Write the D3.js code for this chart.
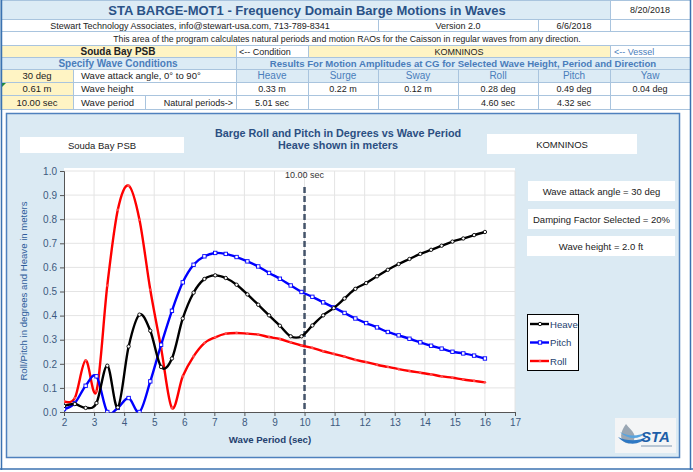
<!DOCTYPE html>
<html>
<head>
<meta charset="utf-8">
<script src="https://cdn.jsdelivr.net/npm/d3@7"></script>
<style>
  body { margin: 0; background: #fff; }
  svg { display: block; }
  text { font-family: "Liberation Sans", Arial, sans-serif; }
</style>
</head>
<body>
<svg id="sheet" width="693" height="472"></svg>
<script>
// ---- chart data ----
var periods = [2.00, 2.36, 2.72, 3.08, 3.44, 3.79, 4.15, 4.51, 4.87, 5.23,
               5.59, 5.95, 6.31, 6.67, 7.03, 7.38, 7.74, 8.10, 8.46, 8.82,
               9.18, 9.54, 9.90, 10.26, 10.62, 10.97, 11.33, 11.69, 12.05, 12.41,
               12.77, 13.13, 13.49, 13.85, 14.21, 14.56, 14.92, 15.28, 15.64, 16.00];
var heave = [0.025, 0.033, 0.017, 0.037, 0.192, 0.019, 0.272, 0.404, 0.337, 0.187,
             0.222, 0.388, 0.495, 0.552, 0.567, 0.556, 0.528, 0.488, 0.445, 0.401,
             0.358, 0.314, 0.314, 0.359, 0.401, 0.431, 0.471, 0.511, 0.535, 0.563,
             0.590, 0.614, 0.635, 0.656, 0.673, 0.690, 0.707, 0.720, 0.734, 0.747];
var pitch = [0.012, 0.037, 0.109, 0.148, 0.000, 0.017, 0.058, 0.000, 0.127, 0.279,
             0.420, 0.538, 0.611, 0.646, 0.660, 0.656, 0.643, 0.625, 0.604, 0.577,
             0.553, 0.525, 0.498, 0.478, 0.455, 0.434, 0.411, 0.388, 0.369, 0.351,
             0.332, 0.318, 0.304, 0.289, 0.275, 0.263, 0.250, 0.243, 0.234, 0.222];
var roll = [0.044, 0.058, 0.214, 0.086, 0.525, 0.839, 0.939, 0.798, 0.507, 0.265,
            0.017, 0.148, 0.231, 0.286, 0.310, 0.325, 0.328, 0.325, 0.321, 0.311,
            0.303, 0.289, 0.276, 0.266, 0.252, 0.241, 0.230, 0.216, 0.207, 0.196,
            0.187, 0.178, 0.170, 0.163, 0.156, 0.148, 0.142, 0.135, 0.129, 0.123];
var xTicks = [2, 3, 4, 5, 6, 7, 8, 9, 10, 11, 12, 13, 14, 15, 16, 17];
var yTicks = [0, 0.1, 0.2, 0.3, 0.4, 0.5, 0.6, 0.7, 0.8, 0.9, 1.0];
var selectedPeriod = 10;
var seriesNames = ["Heave", "Pitch", "Roll"];

// ---- sheet texts ----
var sheetTitle = "STA BARGE-MOT1 - Frequency Domain Barge Motions in Waves";
var runDate = "8/20/2018";
var company = "Stewart Technology Associates, info@stewart-usa.com, 713-789-8341";
var version = "Version 2.0";
var versionDate = "6/6/2018";
var note = "This area of the program calculates natural periods and motion RAOs for the Caisson in regular waves from any direction.";
var condition = "Souda Bay PSB";
var vessel = "KOMNINOS";
var inputValues = ["30 deg", "0.61 m", "10.00 sec"];
var inputLabels = ["Wave attack angle, 0\u00b0 to 90\u00b0", "Wave height", "Wave period"];
var resultLabels = ["Heave", "Surge", "Sway", "Roll", "Pitch", "Yaw"];
var resultValues = ["0.33 m", "0.22 m", "0.12 m", "0.28 deg", "0.49 deg", "0.04 deg"];
var naturalPeriods = ["5.01 sec", "", "", "4.60 sec", "4.32 sec", ""];
var infoBoxes = ["Wave attack angle = 30 deg", "Damping Factor Selected = 20%", "Wave height = 2.0 ft"];

var svg = d3.select("#sheet");
var lightBlue = "#dcebf5", yellow = "#fff4c4", grid = "#a9c4de", blueText = "#4a7dbb";

// ---------- spreadsheet header ----------
var rows = [0, 19, 31, 45, 57, 69, 82, 95, 109];
var cols = [236, 308, 378, 458, 538, 610, 690];

function cell(x0, x1, r, fill) {
  svg.append("rect").attr("x", x0 + 0.5).attr("y", rows[r] + 0.5)
    .attr("width", x1 - x0).attr("height", rows[r + 1] - rows[r])
    .attr("fill", fill).attr("stroke", grid).attr("stroke-width", 1);
}
function label(x, r, str, opt) {
  opt = opt || {};
  svg.append("text").attr("x", x).attr("y", (rows[r] + rows[r + 1]) / 2 + (opt.dy || 3.5))
    .attr("text-anchor", opt.anchor || "middle")
    .attr("font-size", opt.size || 9.5)
    .attr("font-weight", opt.weight || "normal")
    .attr("font-family", opt.family || null)
    .attr("fill", opt.fill || "#222")
    .text(str);
}

cell(0, 610, 0, lightBlue); cell(610, 690, 0, "#fff");
cell(0, 378, 1, "#fff"); cell(378, 538, 1, "#fff"); cell(538, 610, 1, "#fff"); cell(610, 690, 1, "#fff");
cell(0, 690, 2, "#fff");
cell(0, 236, 3, yellow); cell(236, 308, 3, "#fff"); cell(308, 610, 3, yellow); cell(610, 690, 3, "#fff");
cell(0, 236, 4, lightBlue); cell(236, 690, 4, lightBlue);
[5, 6, 7].forEach(function(r) {
  cell(0, 73, r, yellow);
  if (r == 7) { cell(73, 145, r, "#fff"); cell(145, 236, r, "#fff"); }
  else cell(73, 236, r, "#fff");
  for (var c = 0; c < 6; c++) cell(cols[c], cols[c + 1], r, r == 5 ? lightBlue : "#fff");
});

label(307, 0, sheetTitle, {size: 13, weight: "bold", fill: "#2a5287", dy: 5});
label(650, 0, runDate, {size: 9});
label(190, 1, company, {size: 9});
label(458, 1, version, {size: 9});
label(574, 1, versionDate, {size: 9});
label(347, 2, note, {size: 8.7});
label(118, 3, condition, {weight: "bold", size: 10});
label(239, 3, "<-- Condition", {anchor: "start", size: 9});
label(459, 3, vessel, {size: 9});
label(614, 3, "<-- Vessel", {anchor: "start", size: 9, fill: blueText});
label(118, 4, "Specify Wave Conditions", {family: "Lato, sans-serif", weight: 600, size: 10, fill: blueText});
label(463, 4, "Results For Motion Amplitudes at CG for Selected Wave Height, Period and Direction",
  {family: "Lato, sans-serif", weight: 600, size: 9.6, fill: blueText});
inputValues.forEach(function(v, i) {
  label(37, 5 + i, v, {size: 9.5});
  label(81, 5 + i, inputLabels[i], {anchor: "start", size: 9.5});
});
label(233, 7, "Natural periods->", {anchor: "end", size: 9});
resultLabels.forEach(function(v, i) {
  var cx = (cols[i] + cols[i + 1]) / 2;
  label(cx, 5, v, {family: "Lato, sans-serif", size: 10, fill: blueText});
  label(cx, 6, resultValues[i], {size: 9});
  label(cx, 7, naturalPeriods[i], {size: 9});
});
// comment marker in the wave height cell
svg.append("path").attr("d", "M1,83 L6,83 L1,88 Z").attr("fill", "#1e8a3a");

// sheet borders
svg.append("line").attr("x1", 1.5).attr("x2", 1.5).attr("y1", 0).attr("y2", 470).attr("stroke", "#3b72b0").attr("stroke-width", 1.5);
svg.append("line").attr("x1", 690.5).attr("x2", 690.5).attr("y1", 0).attr("y2", 470).attr("stroke", "#3b72b0").attr("stroke-width", 1.5);
svg.append("line").attr("x1", 0).attr("x2", 693).attr("y1", 469).attr("y2", 469).attr("stroke", "#3b72b0").attr("stroke-width", 1.5);

// ---------- chart object ----------
var chart = svg.append("g");
chart.append("rect").attr("x", 6.5).attr("y", 113.5).attr("width", 673).attr("height", 344)
  .attr("fill", "#dbeaf3").attr("stroke", "#4f81bd").attr("stroke-width", 1.5);

chart.append("text").attr("x", 338).attr("y", 137).attr("text-anchor", "middle")
  .attr("font-size", 10.8).attr("font-weight", "bold").attr("fill", "#2b4f82")
  .text("Barge Roll and Pitch in Degrees vs Wave Period");
chart.append("text").attr("x", 338).attr("y", 148.5).attr("text-anchor", "middle")
  .attr("font-size", 10.8).attr("font-weight", "bold").attr("fill", "#2b4f82")
  .text("Heave shown in meters");

function textBox(x, y, w, h, str) {
  chart.append("rect").attr("x", x).attr("y", y).attr("width", w).attr("height", h).attr("fill", "#fff");
  chart.append("text").attr("x", x + w / 2).attr("y", y + h / 2 + 3.5).attr("text-anchor", "middle")
    .attr("font-size", 9.5).attr("fill", "#222").text(str);
}
textBox(20, 137, 164, 16, condition);
textBox(487, 134, 150, 20, vessel);
textBox(528, 181, 147, 20, infoBoxes[0]);
textBox(528, 209, 147, 20, infoBoxes[1]);
textBox(527, 236, 148, 20, infoBoxes[2]);

// plot area
var x = d3.scaleLinear().domain([2, 17]).range([64, 515]);
var y = d3.scaleLinear().domain([0, 1]).range([412, 171]);

chart.append("rect").attr("x", 64).attr("y", 168).attr("width", 451).attr("height", 244).attr("fill", "#fff");

chart.append("g").selectAll("line").data(xTicks.slice(1)).enter().append("line")
  .attr("x1", function(d) { return x(d); }).attr("x2", function(d) { return x(d); })
  .attr("y1", y(1)).attr("y2", y(0)).attr("stroke", "#e4e4e4");
chart.append("g").selectAll("line").data(yTicks.slice(1)).enter().append("line")
  .attr("x1", x(2)).attr("x2", x(17))
  .attr("y1", function(d) { return y(d); }).attr("y2", function(d) { return y(d); })
  .attr("stroke", "#e4e4e4");

var yAxis = chart.append("g").attr("transform", "translate(" + x(2) + ",0)")
  .call(d3.axisLeft(y).tickValues(yTicks).tickFormat(d3.format(".1f")).tickSize(4));
var xAxis = chart.append("g").attr("transform", "translate(0," + y(0) + ")")
  .call(d3.axisBottom(x).tickValues(xTicks).tickSize(4));
[xAxis, yAxis].forEach(function(a) {
  a.selectAll("path, line").attr("stroke", "#555");
  a.selectAll("text").attr("font-size", 10).attr("fill", "#3d5a80")
    .attr("font-family", "'Liberation Sans', Arial, sans-serif");
});

chart.append("text").attr("transform", "translate(27,291) rotate(-90)").attr("text-anchor", "middle")
  .attr("font-size", 9.6).attr("fill", "#2e5c9a").text("Roll/Pitch in degrees and Heave in meters");
chart.append("text").attr("x", 270).attr("y", 443).attr("text-anchor", "middle")
  .attr("font-size", 9.6).attr("font-weight", "bold").attr("fill", "#24406e").text("Wave Period (sec)");

// selected period marker
chart.append("line").attr("x1", x(selectedPeriod)).attr("x2", x(selectedPeriod))
  .attr("y1", 187).attr("y2", y(0)).attr("stroke", "#44546a").attr("stroke-width", 2.5)
  .attr("stroke-dasharray", "6,3");
chart.append("text").attr("x", x(selectedPeriod)).attr("y", 178).attr("text-anchor", "middle")
  .attr("font-size", 9).attr("fill", "#333").text(d3.format(".2f")(selectedPeriod) + " sec");

// series
svg.append("clipPath").attr("id", "plotClip").append("rect")
  .attr("x", 64).attr("y", 160).attr("width", 452).attr("height", 252.5);

var series = [
  {name: seriesNames[0], values: heave, color: "#000000", marker: "circle"},
  {name: seriesNames[1], values: pitch, color: "#0000ff", marker: "square"},
  {name: seriesNames[2], values: roll, color: "#ff0000", marker: "dot"}
];
var line = d3.line().x(function(d) { return x(d[0]); }).y(function(d) { return y(d[1]); })
  .curve(d3.curveCardinal.tension(0));

function drawMarker(g, cx, cy, s) {
  if (s.marker == "circle")
    g.append("circle").attr("cx", cx).attr("cy", cy).attr("r", 1.7)
      .attr("fill", "#fff").attr("stroke", s.color).attr("stroke-width", 0.9);
  else if (s.marker == "square")
    g.append("rect").attr("x", cx - 1.7).attr("y", cy - 1.7).attr("width", 3.4).attr("height", 3.4)
      .attr("fill", "#fff").attr("stroke", s.color).attr("stroke-width", 0.9);
  else
    g.append("circle").attr("cx", cx).attr("cy", cy).attr("r", 1.3).attr("fill", "#ff5050");
}

var plot = chart.append("g").attr("clip-path", "url(#plotClip)");
series.slice().reverse().forEach(function(s) {
  var pts = periods.map(function(p, i) { return [p, s.values[i]]; });
  plot.append("path").datum(pts).attr("d", line).attr("fill", "none")
    .attr("stroke", s.color).attr("stroke-width", 2.4);
  var mg = plot.append("g");
  pts.forEach(function(p) { drawMarker(mg, x(p[0]), y(p[1]), s); });
});

// legend
var lg = chart.append("g");
lg.append("rect").attr("x", 527.5).attr("y", 314.5).attr("width", 51).attr("height", 56)
  .attr("fill", "#fff").attr("stroke", "#000").attr("stroke-width", 1);
series.forEach(function(s, i) {
  var ly = 324 + i * 18.5;
  lg.append("line").attr("x1", 530).attr("x2", 549).attr("y1", ly).attr("y2", ly)
    .attr("stroke", s.color).attr("stroke-width", 2.4);
  drawMarker(lg, 540, ly, s);
  lg.append("text").attr("x", 550).attr("y", ly + 3.5).attr("font-size", 9.6)
    .attr("fill", "#24406e").text(s.name);
});

// STA logo
var logo = chart.append("g");
logo.append("rect").attr("x", 615).attr("y", 418).attr("width", 61).attr("height", 35).attr("fill", "#f4f5f6");
logo.append("path").attr("d", "M626,424 C620,432 619,440 626,443 C632,445 636,440 634,434 C632,430 629,428 626,424 Z")
  .attr("fill", "#9aa7b4");
logo.append("path").attr("d", "M618,437 C626,446 640,446 648,436 C640,441 628,442 618,437 Z").attr("fill", "#2e78c4");
logo.append("path").attr("d", "M620,432 C628,440 640,440 646,432 C640,436 628,437 620,432 Z").attr("fill", "#58a4e0");
logo.append("text").attr("x", 641).attr("y", 442).attr("font-size", 15).attr("font-weight", "bold")
  .attr("font-style", "italic").attr("fill", "#1d5ea8").text("STA");
logo.append("line").attr("x1", 641).attr("x2", 672).attr("y1", 446).attr("y2", 446)
  .attr("stroke", "#7f98b3").attr("stroke-width", 1);
</script>
</body>
</html>
